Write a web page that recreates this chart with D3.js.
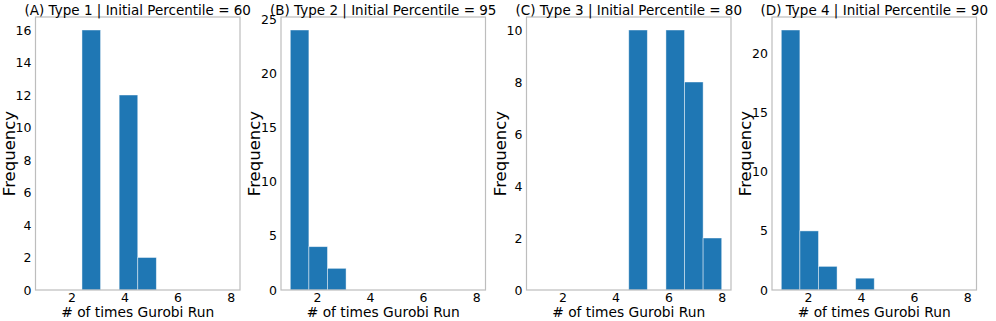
<!DOCTYPE html>
<html>
<head>
<meta charset="utf-8">
<script src="https://cdn.jsdelivr.net/npm/d3@7"></script>
<style>
  body { margin: 0; background: #fff; }
  svg { font-family: 'DejaVu Sans', sans-serif; }
</style>
</head>
<body>
<svg width="996" height="321"></svg>
<script>
// Histogram bin edges shared by all four panels (10 bins from 1 to 8)
const binEdges = [1, 1.7, 2.4, 3.1, 3.8, 4.5, 5.2, 5.9, 6.6, 7.3, 8]
// Counts per bin, one array per panel
const countsA = [0, 0, 16, 0, 12, 2, 0, 0, 0, 0]
const countsB = [24, 4, 2, 0, 0, 0, 0, 0, 0, 0]
const countsC = [0, 0, 0, 0, 0, 10, 0, 10, 8, 2]
const countsD = [22, 5, 2, 0, 1, 0, 0, 0, 0, 0]
const titles = [
  '(A) Type 1 | Initial Percentile = 60',
  '(B) Type 2 | Initial Percentile = 95',
  '(C) Type 3 | Initial Percentile = 80',
  '(D) Type 4 | Initial Percentile = 90',
]
const xTicks = [2, 4, 6, 8]
const yTicksA = [0, 2, 4, 6, 8, 10, 12, 14, 16]
const yTicksB = [0, 5, 10, 15, 20, 25]
const yTicksC = [0, 2, 4, 6, 8, 10]
const yTicksD = [0, 5, 10, 15, 20]
const xLabel = '# of times Gurobi Run'
const yLabel = 'Frequency'

const panels = [
  { counts: countsA, yTicks: yTicksA, title: titles[0] },
  { counts: countsB, yTicks: yTicksB, title: titles[1] },
  { counts: countsC, yTicks: yTicksC, title: titles[2] },
  { counts: countsD, yTicks: yTicksD, title: titles[3] },
]

// Layout of each axes box
const lefts = [35.5, 281, 526.5, 772]
const plotW = 204.5
const plotTop = 17
const plotBottom = 290
const frameColor = '#bdbdbd'

const svg = d3.select('svg')

// matplotlib-style 5% margins on x
const xMin = binEdges[0], xMax = binEdges[binEdges.length - 1]
const xPad = (xMax - xMin) * 0.05

panels.forEach((p, i) => {
  const g = svg.append('g').attr('transform', `translate(${lefts[i]},0)`)
  const x = d3.scaleLinear().domain([xMin - xPad, xMax + xPad]).range([0, plotW])
  const y = d3.scaleLinear().domain([0, d3.max(p.counts) * 1.05]).range([plotBottom, plotTop])

  const bins = p.counts.map((c, j) => ({ x0: binEdges[j], x1: binEdges[j + 1], c }))
  g.selectAll('rect.bar')
    .data(bins.filter((b) => b.c > 0))
    .enter()
    .append('rect')
    .attr('class', 'bar')
    .attr('x', (d) => x(d.x0))
    .attr('width', (d) => x(d.x1) - x(d.x0))
    .attr('y', (d) => y(d.c))
    .attr('height', (d) => y(0) - y(d.c))
    .attr('fill', '#1f77b4')
    .attr('stroke', '#ffffff')
    .attr('stroke-opacity', 0.55)
    .attr('stroke-width', 0.8)

  // Axes without tick marks, labels only
  const xAxis = g.append('g')
    .attr('transform', `translate(0,${plotBottom})`)
    .call(d3.axisBottom(x).tickValues(xTicks).tickSize(0).tickPadding(3))
  const yAxis = g.append('g')
    .call(d3.axisLeft(y).tickValues(p.yTicks).tickSize(0).tickPadding(4))
  ;[xAxis, yAxis].forEach((a) => {
    a.select('.domain').remove()
    a.selectAll('text')
      .attr('fill', '#000')
      .style('font-size', '12.5px')
      .style('font-family', "'DejaVu Sans', sans-serif")
  })

  // Frame
  g.append('rect')
    .attr('x', 0)
    .attr('y', plotTop)
    .attr('width', plotW)
    .attr('height', plotBottom - plotTop)
    .attr('fill', 'none')
    .attr('stroke', frameColor)
    .attr('stroke-width', 1.2)

  g.append('text')
    .attr('x', plotW / 2)
    .attr('y', plotTop - 2.5)
    .attr('text-anchor', 'middle')
    .style('font-size', '13.5px')
    .text(p.title)

  g.append('text')
    .attr('x', plotW / 2)
    .attr('y', 317.3)
    .attr('text-anchor', 'middle')
    .style('font-size', '13.8px')
    .text(xLabel)

  g.append('text')
    .attr('transform', `translate(${-21},${(plotTop + plotBottom) / 2}) rotate(-90)`)
    .attr('text-anchor', 'middle')
    .style('font-size', '16.5px')
    .text(yLabel)
})
</script>
</body>
</html>
